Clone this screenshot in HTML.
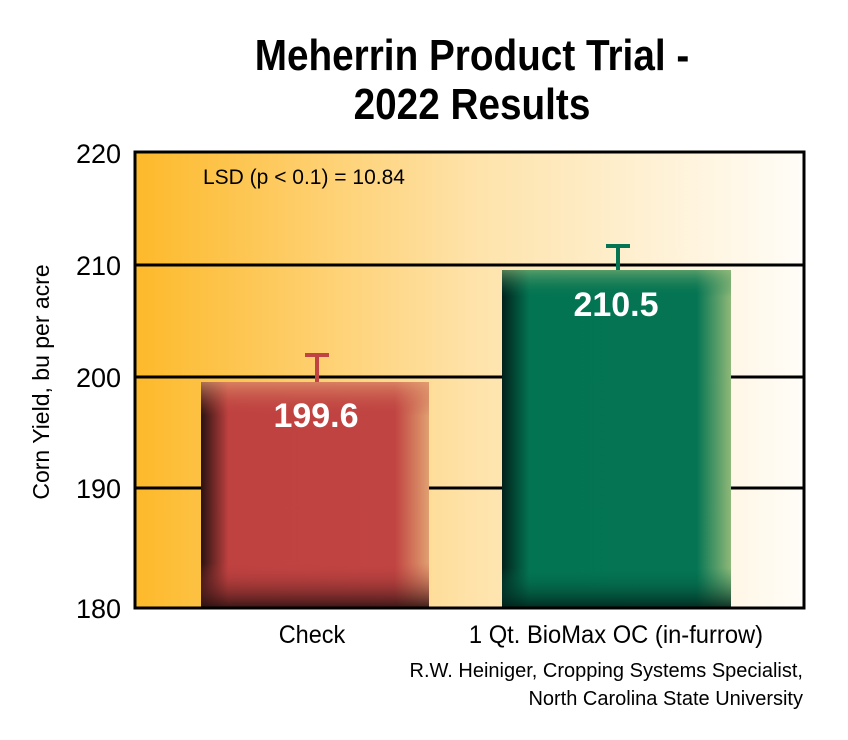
<!DOCTYPE html>
<html><head><meta charset="utf-8"><style>
html,body{margin:0;padding:0;background:#fff}
svg{display:block}
text{font-family:"Liberation Sans",sans-serif}
</style></head><body>
<svg width="848" height="740" viewBox="0 0 848 740" xmlns="http://www.w3.org/2000/svg">
<defs>
<linearGradient id="bg" x1="0" x2="1" y1="0" y2="0">
<stop offset="0" stop-color="#fdb92a"/><stop offset="0.5" stop-color="#fee2a8"/><stop offset="1" stop-color="#fffdf8"/>
</linearGradient>
<linearGradient id="rh" x1="0" x2="1"><stop offset="0" stop-color="#2a1210"/><stop offset="0.12" stop-color="#bf4140"/><stop offset="0.85" stop-color="#c04442"/><stop offset="1" stop-color="#e0a070"/></linearGradient>
<linearGradient id="rv" x1="0" x2="0" y1="0" y2="1"><stop offset="0" stop-color="#e39a70" stop-opacity="0.7"/><stop offset="0.15" stop-color="#c04442" stop-opacity="0"/><stop offset="0.8" stop-color="#c04442" stop-opacity="0"/><stop offset="1" stop-color="#2a1010" stop-opacity="0.9"/></linearGradient>
<linearGradient id="gh" x1="0" x2="1"><stop offset="0" stop-color="#02211a"/><stop offset="0.12" stop-color="#037452"/><stop offset="0.85" stop-color="#047452"/><stop offset="1" stop-color="#8fb878"/></linearGradient>
<linearGradient id="gv" x1="0" x2="0" y1="0" y2="1"><stop offset="0" stop-color="#8fb878" stop-opacity="0.6"/><stop offset="0.08" stop-color="#047452" stop-opacity="0"/><stop offset="0.88" stop-color="#047452" stop-opacity="0"/><stop offset="1" stop-color="#02211a" stop-opacity="0.9"/></linearGradient>
</defs>
<g font-size="44" font-weight="bold" text-anchor="middle" transform="translate(472 0) scale(0.88 1) translate(-472 0)">
<text x="472" y="70">Meherrin Product Trial -</text>
<text x="472" y="119">2022 Results</text>
</g>
<rect x="135" y="152" width="669" height="456" fill="url(#bg)"/>
<g stroke="#000" stroke-width="3">
<line x1="135" y1="265" x2="804" y2="265"/>
<line x1="135" y1="377" x2="804" y2="377"/>
<line x1="135" y1="488" x2="804" y2="488"/>
</g>
<rect x="201" y="382" width="228" height="226" fill="url(#rh)"/>
<rect x="201" y="382" width="228" height="226" fill="url(#rv)"/>
<rect x="502" y="270" width="229" height="338" fill="url(#gh)"/>
<rect x="502" y="270" width="229" height="338" fill="url(#gv)"/>
<g stroke="#c04442" stroke-width="4"><line x1="317" y1="355" x2="317" y2="382"/><line x1="305" y1="355" x2="329" y2="355"/></g>
<g stroke="#047452" stroke-width="4"><line x1="618" y1="246" x2="618" y2="270"/><line x1="606" y1="246" x2="630" y2="246"/></g>
<rect x="135" y="152" width="669" height="456" fill="none" stroke="#000" stroke-width="3"/>
<g font-size="34" font-weight="bold" fill="#fff" text-anchor="middle">
<text x="316" y="427">199.6</text>
<text x="616" y="316">210.5</text>
</g>
<text x="203" y="184" font-size="21">LSD (p &lt; 0.1) = 10.84</text>
<g font-size="27" text-anchor="end">
<text x="121" y="163">220</text>
<text x="121" y="275">210</text>
<text x="121" y="387">200</text>
<text x="121" y="498">190</text>
<text x="121" y="618">180</text>
</g>
<text transform="translate(49 382) rotate(-90)" font-size="23" text-anchor="middle">Corn Yield, bu per acre</text>
<g font-size="25" text-anchor="middle">
<text x="312" y="643" transform="translate(312 0) scale(0.94 1) translate(-312 0)">Check</text>
<text x="616" y="643" transform="translate(616 0) scale(0.95 1) translate(-616 0)">1 Qt. BioMax OC (in-furrow)</text>
</g>
<g font-size="20" text-anchor="end">
<text x="803" y="677">R.W. Heiniger, Cropping Systems Specialist,</text>
<text x="803" y="705">North Carolina State University</text>
</g>
</svg>
</body></html>
